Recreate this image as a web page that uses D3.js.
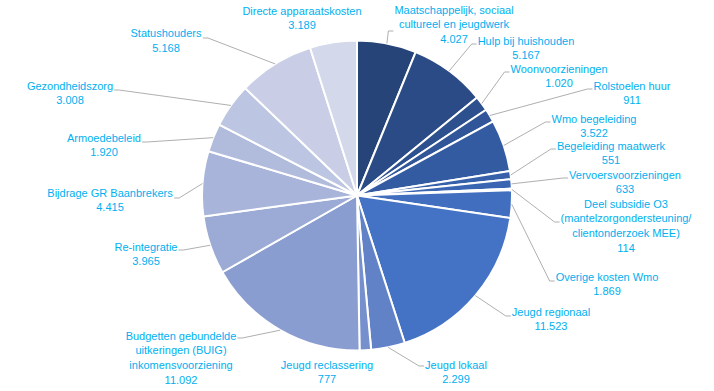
<!DOCTYPE html>
<html>
<head>
<meta charset="utf-8">
<script src="https://cdn.jsdelivr.net/npm/d3@7"></script>
<style>
  html, body { margin: 0; padding: 0; background: #ffffff; }
  svg { display: block; }
</style>
</head>
<body>
<svg id="chart" width="714" height="391"></svg>
<script>
// ---- data ----
const categories = [
  "Maatschappelijk, sociaal\ncultureel en jeugdwerk",
  "Hulp bij huishouden",
  "Woonvoorzieningen",
  "Rolstoelen huur",
  "Wmo begeleiding",
  "Begeleiding maatwerk",
  "Vervoersvoorzieningen",
  "Deel subsidie O3\n(mantelzorgondersteuning/\nclientonderzoek MEE)",
  "Overige kosten Wmo",
  "Jeugd regionaal",
  "Jeugd lokaal",
  "Jeugd reclassering",
  "Budgetten gebundelde\nuitkeringen (BUIG)\ninkomensvoorziening",
  "Re-integratie",
  "Bijdrage GR Baanbrekers",
  "Armoedebeleid",
  "Gezondheidszorg",
  "Statushouders",
  "Directe apparaatskosten"
];
const values = [4027, 5167, 1020, 911, 3522, 551, 633, 114, 1869, 11523, 2299, 777, 11092, 3965, 4415, 1920, 3008, 5168, 3189];

// ---- styling / layout (not data) ----
const colors = ["#264478","#2A4B85","#2D518F","#305699","#335BA2","#3760AA","#3A65B2","#3E6ABA","#416EBF","#4472C4",
                "#6282C8","#7590CC","#8A9DD1","#9CABD5","#A8B4D9","#B1BCDD","#BCC5E1","#C9CEE6","#D3D8EA"];
// label block: center x, first-line center y, leader side and attach y
const labelLayout = [
  {x: 454, y: 10,  side: "r", ay: 31},
  {x: 526, y: 41,  side: "r", ay: 44},
  {x: 559, y: 69,  side: "r", ay: 72},
  {x: 632, y: 86,  side: "r", ay: 89},
  {x: 594, y: 119, side: "r", ay: 122},
  {x: 611, y: 146, side: "r", ay: 149},
  {x: 625, y: 175, side: "r", ay: 178},
  {x: 626, y: 204, side: "r", ay: 222},
  {x: 607, y: 277, side: "r", ay: 281},
  {x: 551, y: 312, side: "r", ay: 316},
  {x: 456, y: 365, side: "r", ay: 366},
  {x: 327, y: 365, side: null},
  {x: 181, y: 336, side: "l", ay: 338},
  {x: 146, y: 247, side: "l", ay: 250},
  {x: 110, y: 193, side: "l", ay: 198},
  {x: 104, y: 138, side: "l", ay: 142},
  {x: 70,  y: 86,  side: "l", ay: 90},
  {x: 166, y: 33.5,side: "l", ay: 38},
  {x: 302, y: 11,  side: null}
];

const W = 714, H = 391;
const cx = 357, cy = 195.5, R = 155;
const lineH = 14.6;
const fmt = v => d3.format(",")(v).replace(/,/g, ".");

const svg = d3.select("#chart");
const data = categories.map((c, i) => ({name: c, value: values[i], i}));

const pie = d3.pie().sort(null).value(d => d.value);
const arcs = pie(data);
const arc = d3.arc().innerRadius(0).outerRadius(R);
const color = d3.scaleOrdinal().domain(d3.range(categories.length)).range(colors);

const g = svg.append("g").attr("transform", `translate(${cx},${cy})`);
g.selectAll("path.slice")
  .data(arcs)
  .join("path")
  .attr("class", "slice")
  .attr("d", arc)
  .attr("fill", d => color(d.data.i))
  .attr("stroke", "#ffffff")
  .attr("stroke-width", 2)
  .attr("stroke-linejoin", "round");

// labels
const labelsG = svg.append("g")
  .attr("font-family", "'Liberation Sans', Arial, sans-serif")
  .attr("font-size", "11px")
  .attr("fill", "#00B0F0");

arcs.forEach(a => {
  const i = a.data.i;
  const L = labelLayout[i];
  const textLines = a.data.name.split("\n").concat([fmt(a.data.value)]);
  const t = labelsG.append("text").attr("text-anchor", "middle");
  textLines.forEach((s, k) => {
    t.append("tspan")
      .attr("x", L.x)
      .attr("y", L.y + k * lineH)
      .attr("dy", "0.35em")
      .text(s);
  });
  if (!L.side) return;
  const bb = t.node().getBBox();
  const mid = (a.startAngle + a.endAngle) / 2;
  const p0 = [cx + R * Math.sin(mid), cy - R * Math.cos(mid)];
  let elbow, end;
  if (L.side === "r") {
    end = [bb.x - 1, L.ay];
    elbow = [bb.x - 6, L.ay];
  } else {
    end = [bb.x + bb.width + 1, L.ay];
    elbow = [bb.x + bb.width + 6, L.ay];
  }
  svg.append("path")
    .attr("d", d3.line()([p0, elbow, end]))
    .attr("fill", "none")
    .attr("stroke", "#A6A6A6")
    .attr("stroke-width", 0.9);
});
</script>
</body>
</html>
